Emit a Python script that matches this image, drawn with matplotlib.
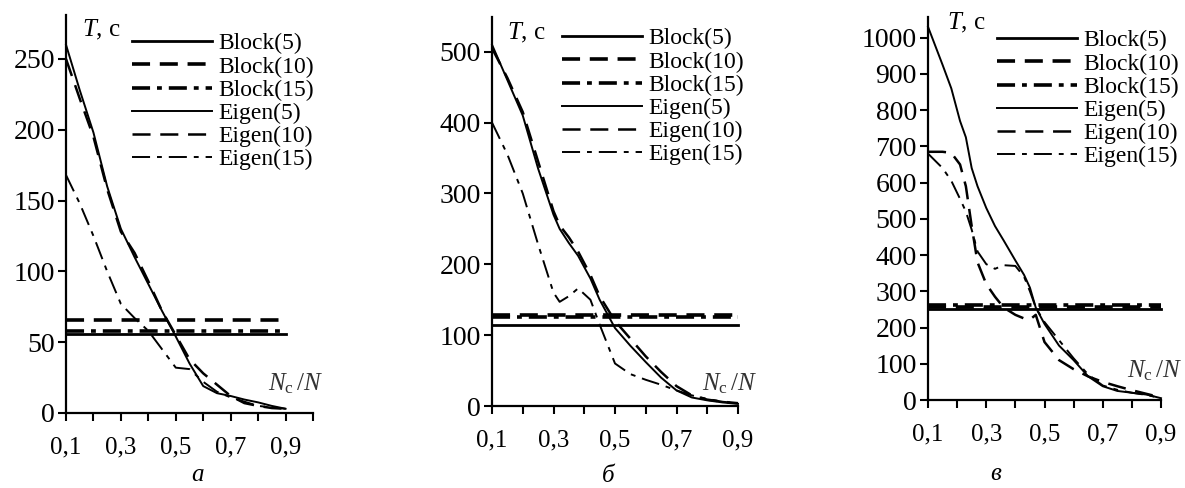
import matplotlib
matplotlib.use("Agg")
import matplotlib.pyplot as plt

plt.rcParams['font.family'] = ['Liberation Serif', 'DejaVu Serif']
plt.rcParams['mathtext.fontset'] = 'custom'
plt.rcParams['mathtext.rm'] = 'Liberation Serif'
plt.rcParams['mathtext.it'] = 'Liberation Serif:italic'
plt.rcParams['lines.scale_dashes'] = False

labels = ['Block(5)', 'Block(10)', 'Block(15)', 'Eigen(5)', 'Eigen(10)', 'Eigen(15)']

# panel a
x_a = [0.1, 0.15, 0.2, 0.25, 0.3, 0.35, 0.4, 0.45, 0.5, 0.55, 0.6, 0.65, 0.7, 0.75, 0.8, 0.85, 0.9]
block_a = [56, 66, 58]
eig5_a = [260, 228, 198, 160, 130, 110, 91, 72, 54, 35, 19, 14, 12, 9.5, 7.5, 5, 3]
eig10_a = [250, 222, 195, 158, 128, 113, 93, 72, 55, 38, 28, 20, 12, 7, 5, 3.5, 3]
eig15_a = [168, 148, 125, 100, 77, 67, 58, 45, 32, 31, 22, 15, 11, 8, 5, 4, 3]

# panel b
x_b = [0.1, 0.15, 0.2, 0.25, 0.3, 0.32, 0.35, 0.38, 0.42, 0.45, 0.5, 0.55, 0.6, 0.65, 0.7, 0.75, 0.8, 0.85, 0.9]
block_b = [114, 128, 125]
eig5_b = [510, 460, 410, 335, 270, 250, 230, 212, 180, 150, 110, 85, 62, 40, 22, 12, 8, 5, 3]
eig10_b = [505, 463, 415, 345, 275, 255, 238, 218, 185, 155, 120, 95, 70, 48, 28, 15, 9, 6, 4]
eig15_b = [400, 355, 300, 228, 160, 147, 155, 166, 150, 115, 60, 45, 37, 30, 22, 15, 10, 6, 4]

# panel c
x_c = [0.1, 0.15, 0.18, 0.21, 0.23, 0.25, 0.27, 0.3, 0.33, 0.36, 0.4, 0.43, 0.45, 0.47, 0.5,
       0.55, 0.6, 0.65, 0.7, 0.75, 0.8, 0.85, 0.9]
block_c = [252, 258, 262]
eig5_c = [1030, 925, 860, 770, 725, 640, 590, 530, 480, 440, 385, 345, 310, 255, 210,
          150, 110, 65, 38, 25, 20, 15, 5]
eig10_c = [685, 685, 682, 650, 590, 480, 380, 320, 285, 255, 235, 225, 222, 235, 160,
           110, 85, 65, 50, 38, 27, 17, 7]
eig15_c = [680, 640, 605, 555, 520, 470, 410, 375, 362, 372, 370, 340, 300, 255, 215,
           165, 115, 70, 40, 28, 20, 14, 5]

dash = (0, (13, 7))
dashdot = (0, (13, 5, 3.5, 5))
styles = [('-', 2.0), (dash, 2.6), (dashdot, 2.6), ('-', 1.4), (dash, 1.8), (dashdot, 1.4)]

panels = [
    dict(x=x_a, block=block_a, eig=[eig5_a, eig10_a, eig15_a], pos=[66, 313, 413, 15],
         xmax=1.0, ymax=281, yticks=range(0, 251, 50), leg=(132, 33),
         tlab=(82, 30), nlab=(268, 384), letter='а', lpos=(197, 475)),
    dict(x=x_b, block=block_b, eig=[eig5_b, eig10_b, eig15_b], pos=[492, 738, 406, 17],
         xmax=0.9, ymax=549, yticks=range(0, 501, 100), leg=(562, 28),
         tlab=(507, 33), nlab=(702, 384), letter='б', lpos=(608, 476)),
    dict(x=x_c, block=block_c, eig=[eig5_c, eig10_c, eig15_c], pos=[928, 1161, 400, 17],
         xmax=0.9, ymax=1057, yticks=range(0, 1001, 100), leg=(997, 30),
         tlab=(947, 23), nlab=(1127, 371), letter='в', lpos=(996, 474)),
]

W, H = 1185, 488
fig = plt.figure(figsize=(W / 100, H / 100), dpi=100)

for p in panels:
    l, r, b, t = p['pos']
    ax = fig.add_axes([l / W, 1 - b / H, (r - l) / W, (b - t) / H])
    x = p['x']
    for i, v in enumerate(p['block']):
        ls, lw = styles[i]
        ax.plot([x[0], x[-1]], [v, v], color='black', linestyle=ls, linewidth=lw,
                label=labels[i], clip_on=False)
    for i, ys in enumerate(p['eig']):
        ls, lw = styles[i + 3]
        ax.plot(x, ys, color='black', linestyle=ls, linewidth=lw,
                label=labels[i + 3], clip_on=False)

    ax.set_xlim(0.1, p['xmax'])
    ax.set_ylim(0, p['ymax'])
    ax.set_xticks([0.1 + 0.1 * k for k in range(int(round((p['xmax'] - 0.1) / 0.1)) + 1)])
    ax.set_xticklabels(['0,1', '', '0,3', '', '0,5', '', '0,7', '', '0,9', ''][:len(ax.get_xticks())])
    ax.set_yticks(list(p['yticks']))
    ax.tick_params(direction='out', length=6, width=1.5, colors='black')
    ax.tick_params(axis='x', labelsize=18, pad=11)
    ax.tick_params(axis='y', labelsize=20, pad=2)
    for s in ['top', 'right']:
        ax.spines[s].set_visible(False)
    for s in ['left', 'bottom']:
        ax.spines[s].set_linewidth(1.6)

    ax.legend(loc='upper left', bbox_to_anchor=(p['leg'][0] / W, 1 - p['leg'][1] / H),
              bbox_transform=fig.transFigure, frameon=False, fontsize=17,
              handlelength=3.4, handletextpad=0.25, labelspacing=0.07,
              borderpad=0, borderaxespad=0)

    fig.text(p['tlab'][0] / W, 1 - p['tlab'][1] / H, r'$T$, c', fontsize=18, va='center')
    fig.text(p['nlab'][0] / W, 1 - p['nlab'][1] / H, r'$N_{\rm c}\,/N$', fontsize=18,
             va='center', color='#333333')
    fig.text(p['lpos'][0] / W, 1 - p['lpos'][1] / H, p['letter'], fontsize=18,
             style='italic', ha='center', va='center')

fig.savefig('out.png', dpi=100)
